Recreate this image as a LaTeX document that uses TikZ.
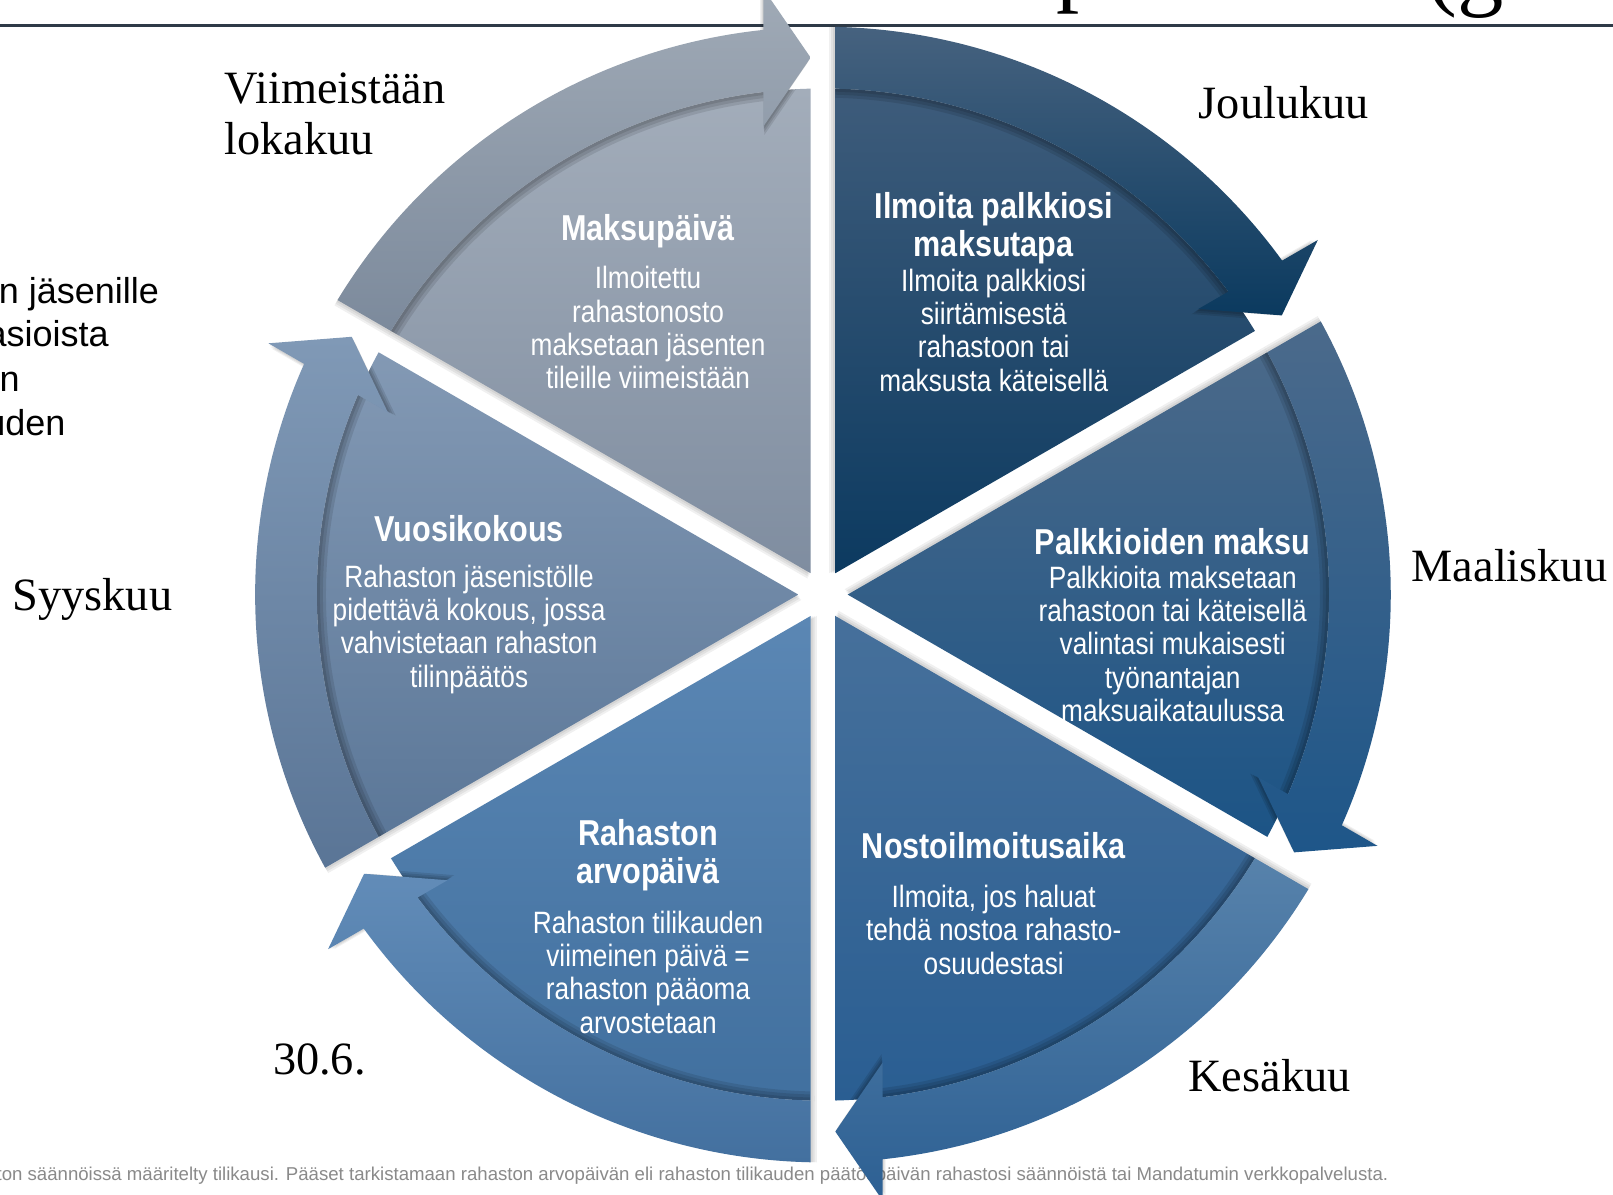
\documentclass[tikz,border=0pt]{standalone}
\usepackage{fontspec}
\setmainfont{Liberation Serif}
\newfontfamily\nsans[FakeStretch=0.85]{Liberation Sans}
\newfontfamily\psans{Liberation Sans}
\definecolor{s1wt}{HTML}{3E5C7B}\definecolor{s1wb}{HTML}{0C3A60}
\definecolor{s1bt}{HTML}{46627F}\definecolor{s1bb}{HTML}{0B3A5F}
\definecolor{s2wt}{HTML}{4A6989}\definecolor{s2wb}{HTML}{1C5486}
\definecolor{s2bt}{HTML}{4B6A8B}\definecolor{s2bb}{HTML}{1E5689}
\definecolor{s3wt}{HTML}{46709B}\definecolor{s3wb}{HTML}{2A5E92}
\definecolor{s3bt}{HTML}{5782AB}\definecolor{s3bb}{HTML}{2D6093}
\definecolor{s4wt}{HTML}{5B87B4}\definecolor{s4wb}{HTML}{41709F}
\definecolor{s4bt}{HTML}{628CB8}\definecolor{s4bb}{HTML}{43709F}
\definecolor{s5wt}{HTML}{8399B4}\definecolor{s5wb}{HTML}{5B7798}
\definecolor{s5bt}{HTML}{8099B6}\definecolor{s5bb}{HTML}{5A7596}
\definecolor{s6wt}{HTML}{A3ADBA}\definecolor{s6wb}{HTML}{7F8DA0}
\definecolor{s6bt}{HTML}{A0AAB6}\definecolor{s6bb}{HTML}{7C8A9C}
\definecolor{rulec}{HTML}{2E3A47}
\definecolor{footgrey}{HTML}{8A8A8A}
\newcommand{\wedgepath}[1]{({#1-30}:24) -- ({#1-1.397}:492) arc[start angle={#1-1.397}, end angle={#1-58.603}, radius=492] -- cycle}
\newcommand{\bandpath}[1]{({#1-1.246}:552) arc[start angle={#1-1.246}, end angle={#1-53.969}, radius=552] -- ({#1-54.376}:591.85) -- ({#1-58.683}:522.14) -- ({#1-52.736}:458.68) -- ({#1-53.230}:492) arc[start angle={#1-53.230}, end angle={#1-1.397}, radius=492] -- cycle}
\tikzset{
  ttl/.style={text=white, font=\nsans\bfseries\fontsize{17.5}{18.5}\selectfont, align=center, inner sep=0pt},
  bdy/.style={text=white, font=\nsans\fontsize{15}{16.2}\selectfont, align=center, inner sep=0pt},
  mon/.style={text=black, font=\fontsize{22.5}{27}\selectfont, inner sep=0pt},
  lft/.style={text=black, font=\psans\fontsize{17.5}{21}\selectfont, inner sep=0pt},
  foot/.style={text=footgrey, font=\psans\fontsize{9.05}{10}\selectfont, inner sep=0pt},
  ttlbig/.style={text=black, font=\fontsize{45}{50}\selectfont, inner sep=0pt}
}
\begin{document}
\begin{tikzpicture}[x=0.5pt,y=0.5pt]
\useasboundingbox (-800,-583) rectangle (768,578);
\fill[white] (-800,-583) rectangle (768,578);
% footer (under the diagram)
\node[foot, anchor=base east] (foot) at (550,-570) {ton säännöissä määritelty tilikausi. Pääset tarkistamaan rahaston arvopäivän eli rahaston tilikauden päätöspäivän rahastosi säännöistä tai Mandatumin verkkopalvelusta.};
% title remnants and rule
\node[ttlbig, anchor=base] (tp) at (250,583.5) {p};
\node[ttlbig, anchor=base west] (tg) at (586,579) {(g};
\coordinate (rl) at (-800,553);
\coordinate (rr) at (768,553);
\draw[rulec, line width=1.5pt] (rl) -- (rr);
% soft shadows
\foreach \a in {90,30,-30,-90,-150,150}{
  \foreach \s in {2,4,6}{
    \fill[black, opacity=0.06, shift={({\a+90}:\s)}] \wedgepath{\a};
    \fill[black, opacity=0.06, shift={({\a+90}:\s)}] \bandpath{\a};
  }
}
% sectors
\foreach \a/\wt/\wb/\bt/\bb in {90/s1wt/s1wb/s1bt/s1bb, 30/s2wt/s2wb/s2bt/s2bb, -30/s3wt/s3wb/s3bt/s3bb, -90/s4wt/s4wb/s4bt/s4bb, -150/s5wt/s5wb/s5bt/s5bb, 150/s6wt/s6wb/s6bt/s6bb}{
  \shade[top color=\wt, bottom color=\wb] \wedgepath{\a};
  \begin{scope}
    \clip \wedgepath{\a};
    \foreach \k in {0.994,0.988,0.982}{
      \fill[black, opacity=0.1, scale=\k] \bandpath{\a};
    }
  \end{scope}
  \shade[top color=\bt, bottom color=\bb] \bandpath{\a};
}
% sector texts
\node[ttl] (t1) at (166,356.5) {Ilmoita palkkiosi\\maksutapa};
\node[bdy] (b1) at (166,257) {Ilmoita palkkiosi\\siirtämisestä\\rahastoon tai\\maksusta käteisellä};
\node[ttl] (t2) at (340,51) {Palkkioiden maksu};
\node[bdy] (b2) at (340,-48) {Palkkioita maksetaan\\rahastoon tai käteisellä\\valintasi mukaisesti\\työnantajan\\maksuaikataulussa};
\node[ttl] (t3) at (166,-244) {Nostoilmoitusaika};
\node[bdy] (b3) at (166,-326) {Ilmoita, jos haluat\\tehdä nostoa rahasto-\\osuudestasi};
\node[ttl] (t4) at (-170,-253) {Rahaston\\arvopäivä};
\node[bdy] (b4) at (-170,-367) {Rahaston tilikauden\\viimeinen päivä =\\rahaston pääoma\\arvostetaan};
\node[ttl] (t5) at (-344,64) {Vuosikokous};
\node[bdy] (b5) at (-344,-33.5) {Rahaston jäsenistölle\\pidettävä kokous, jossa\\vahvistetaan rahaston\\tilinpäätös};
\node[ttl] (t6) at (-170,353) {Maksupäivä};
\node[bdy] (b6) at (-170,259.5) {Ilmoitettu\\rahastonosto\\maksetaan jäsenten\\tileille viimeistään};
% month labels
\node[mon, anchor=base west] (m1a) at (-582,477) {Viimeistään};
\node[mon, anchor=base west] (m1b) at (-582,428) {lokakuu};
\node[mon, anchor=base west] (m2) at (365,463) {Joulukuu};
\node[mon, anchor=base west] (m3) at (572,13) {Maaliskuu};
\node[mon, anchor=base west] (m4) at (-788,-15) {Syyskuu};
\node[mon, anchor=base west] (m5) at (355,-483) {Kesäkuu};
\node[mon, anchor=base west] (m6) at (-535,-467) {30.6.};
% cut-off left text
\node[lft, anchor=base east] (l1) at (-645,283.4) {n jäsenille};
\node[lft, anchor=base east] (l2) at (-694,241) {asioista};
\node[lft, anchor=base east] (l3) at (-780.6,197.3) {n};
\node[lft, anchor=base east] (l4) at (-736,155) {uden};
\end{tikzpicture}
\end{document}
